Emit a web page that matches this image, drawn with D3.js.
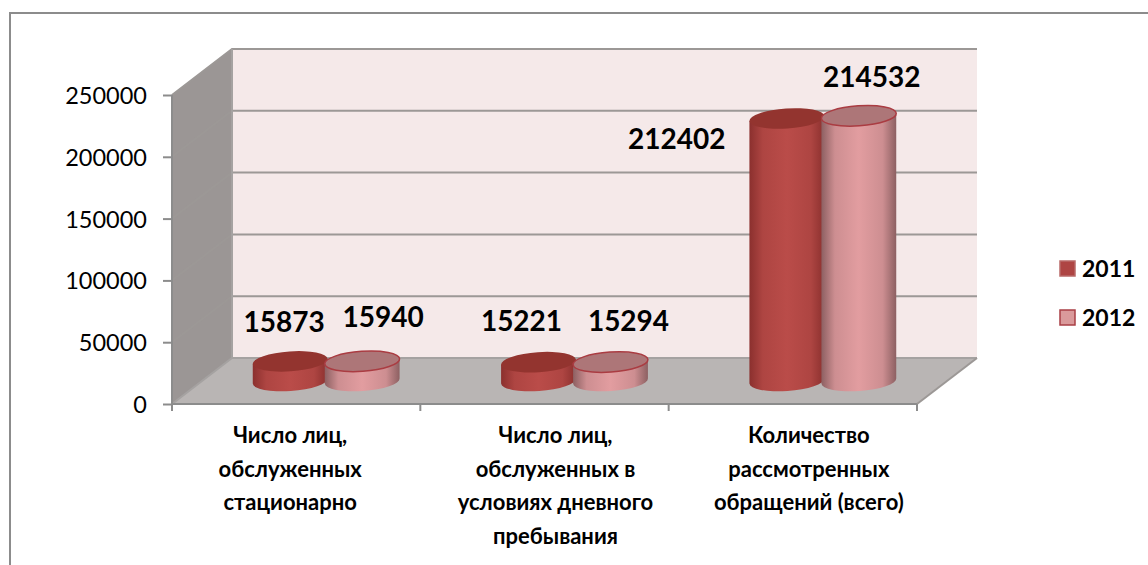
<!DOCTYPE html>
<html>
<head>
<meta charset="utf-8">
<script src="https://cdn.jsdelivr.net/npm/d3@7"></script>
<style>
	html, body { margin: 0; padding: 0; background: #fff; }
	svg { display: block; }
	text { font-family: Lato, "Open Sans", sans-serif; fill: #000; }
</style>
</head>
<body>
<svg id="chart" width="1148" height="565"></svg>
<script>
// data
var categories = [
	["Число лиц,", "обслуженных", "стационарно"],
	["Число лиц,", "обслуженных в", "условиях дневного", "пребывания"],
	["Количество", "рассмотренных", "обращений (всего)"]
];
var seriesNames = ["2011", "2012"];
var values2011 = [15873, 15221, 212402];
var values2012 = [15940, 15294, 214532];
var yTicks = [0, 50000, 100000, 150000, 200000, 250000];

var seriesValues = [values2011, values2012];

// chart box, the depth is the shift from front of floor to the back wall
var left = 172, right = 917, bottom = 404, top_ = 95;
var depthX = 60, depthY = 46;
var rx = 37.5, ry = 10, tilt = 4;
var rad = tilt * Math.PI / 180;

var svg = d3.select("#chart");

var x = d3.scaleBand().domain(d3.range(categories.length)).range([left, right]);
var y = d3.scaleLinear().domain([0, 250000]).range([bottom, top_]);
var xSeries = d3.scaleBand().domain(seriesNames).range([-72, 72]);

// centre of one cylinder, half way into the floor
function cylX(name, i) {
	return x(i) + x.bandwidth() / 2 + depthX / 2 + xSeries(name) + xSeries.bandwidth() / 2;
}

// gradients for the cylinders
var defs = svg.append("defs");
var colors = [
	{ edge: "#8b302e", mid: "#ba4c49", top: "#93342f", line: "#a53a38" },
	{ edge: "#8d6062", mid: "#e29da0", top: "#ad7678", line: "#aa3c42" }
];
colors.forEach(function (c, i) {
	var g = defs.append("linearGradient").attr("id", "side" + i);
	g.append("stop").attr("offset", "0%").attr("stop-color", c.edge);
	g.append("stop").attr("offset", "18%").attr("stop-color", d3.interpolateRgb(c.edge, c.mid)(0.75));
	g.append("stop").attr("offset", "50%").attr("stop-color", c.mid);
	g.append("stop").attr("offset", "82%").attr("stop-color", d3.interpolateRgb(c.edge, c.mid)(0.75));
	g.append("stop").attr("offset", "100%").attr("stop-color", c.edge);
});

// outer frame, only top and left are visible
svg.append("path")
	.attr("d", "M10,565 V13 H1148")
	.attr("fill", "none")
	.attr("stroke", "#8c8c8c")
	.attr("stroke-width", 2);

// walls
var backLeft = left + depthX, backRight = right + depthX, shiftY = -depthY;

svg.append("rect")
	.attr("x", backLeft)
	.attr("y", y(250000) + shiftY)
	.attr("width", backRight - backLeft)
	.attr("height", y(0) - y(250000))
	.attr("fill", "#f5e9e9");

svg.append("path")
	.attr("d", d3.line()([[left, y(0)], [left, y(250000)], [backLeft, y(250000) + shiftY], [backLeft, y(0) + shiftY]]) + "Z")
	.attr("fill", "#9b9695");

svg.append("path")
	.attr("d", d3.line()([[left, y(0)], [backLeft, y(0) + shiftY], [backRight, y(0) + shiftY], [right, y(0)]]) + "Z")
	.attr("fill", "#b9b5b4");

// gridlines run round the left wall and along the back wall
svg.append("g").selectAll("path").data(yTicks).join("path")
	.attr("d", function (d) {
		return d3.line()([[left, y(d)], [backLeft, y(d) + shiftY], [backRight, y(d) + shiftY]]);
	})
	.attr("fill", "none")
	.attr("stroke", function (d) { return d == 0 ? "#a5a2a1" : "#9c9896"; })
	.attr("stroke-width", 2);

svg.append("path")
	.attr("d", d3.line()([[right, y(0)], [backRight, y(0) + shiftY]]))
	.attr("stroke", "#9c9896")
	.attr("stroke-width", 2)
	.attr("fill", "none");

svg.append("path")
	.attr("d", d3.line()([[backLeft, y(250000) + shiftY], [backLeft, y(0) + shiftY]]))
	.attr("stroke", "#a5a2a1")
	.attr("stroke-width", 2);

// axes
var yAxis = svg.append("g")
	.attr("transform", "translate(" + left + ",0)")
	.call(d3.axisLeft(y).tickValues(yTicks).tickSize(9).tickPadding(16).tickFormat(d3.format("d")));
yAxis.selectAll("text").style("font-size", "23.5px").attr("dy", "0.36em");
yAxis.selectAll("line").attr("stroke", "#8c8c8c").attr("stroke-width", 2);
yAxis.select(".domain").attr("stroke", "#8c8c8c").attr("stroke-width", 2).attr("d", "M0," + y(0) + "V" + y(250000));

var xAxisTicks = d3.range(categories.length + 1).map(function (i) {
	return i < categories.length ? x(i) : right;
});
svg.append("g").selectAll("line").data(xAxisTicks).join("line")
	.attr("x1", function (d) { return d; })
	.attr("x2", function (d) { return d; })
	.attr("y1", y(0))
	.attr("y2", y(0) + 7)
	.attr("stroke", "#8c8c8c")
	.attr("stroke-width", 2);
svg.append("line")
	.attr("x1", left).attr("x2", right)
	.attr("y1", y(0)).attr("y2", y(0))
	.attr("stroke", "#8c8c8c")
	.attr("stroke-width", 2);

// category labels, not quite centred under the ticks in the original
var categoryShift = [-6, 11, 16];
svg.append("g").selectAll("text").data(categories).join("text")
	.attr("text-anchor", "middle")
	.style("font-size", "22px")
	.style("font-weight", "bold")
	.each(function (lines, i) {
		d3.select(this).selectAll("tspan").data(lines).join("tspan")
			.attr("x", x(i) + x.bandwidth() / 2 + categoryShift[i])
			.attr("y", function (d, j) { return 443 + j * 33.5; })
			.text(function (d) { return d; });
	});

// side of cylinder: straight edges with the lower half of the base ellipse
function cylinderSide(cx, base, topY) {
	var dx = rx * Math.cos(rad), dy = rx * Math.sin(rad);
	return "M" + (cx - dx) + "," + (topY + dy) +
		"L" + (cx - dx) + "," + (base + dy) +
		"A" + rx + "," + ry + " " + (-tilt) + " 0 0 " + (cx + dx) + "," + (base - dy) +
		"L" + (cx + dx) + "," + (topY - dy) +
		"Z";
}

seriesNames.forEach(function (name, s) {
	var g = svg.append("g");
	var rows = seriesValues[s].map(function (v, i) {
		return { cx: cylX(name, i), base: y(0) - depthY / 2, topY: y(v) - depthY / 2 };
	});
	g.selectAll("path.side").data(rows).join("path")
		.attr("class", "side")
		.attr("d", function (d) { return cylinderSide(d.cx, d.base, d.topY); })
		.attr("fill", "url(#side" + s + ")");
	g.selectAll("ellipse").data(rows).join("ellipse")
		.attr("cx", function (d) { return d.cx; })
		.attr("cy", function (d) { return d.topY; })
		.attr("rx", rx)
		.attr("ry", ry)
		.attr("transform", function (d) { return "rotate(" + (-tilt) + " " + d.cx + " " + d.topY + ")"; })
		.attr("fill", colors[s].top)
		.attr("stroke", colors[s].line)
		.attr("stroke-width", s == 1 ? 1.5 : 0);
});

// value labels were moved by hand in the original, offsets from top of cylinder
var labelShift = [
	[[-6, -29], [-17, -31], [-110, 31]],
	[[21, -34], [18, -31], [13, -29]]
];
svg.append("g").selectAll("g").data(seriesNames).join("g")
	.each(function (name, s) {
		d3.select(this).selectAll("text").data(seriesValues[s]).join("text")
			.attr("text-anchor", "middle")
			.style("font-size", "28px")
			.style("font-weight", "bold")
			.attr("x", function (v, i) { return cylX(name, i) + labelShift[s][i][0]; })
			.attr("y", function (v, i) { return y(v) - depthY / 2 + labelShift[s][i][1]; })
			.text(function (v) { return v; });
	});

// legend
var legend = svg.append("g").selectAll("g").data(seriesNames).join("g")
	.attr("transform", function (d, i) { return "translate(1060," + (261 + i * 49) + ")"; });
legend.append("rect")
	.attr("width", 15).attr("height", 15)
	.attr("fill", function (d, i) { return i == 0 ? "#ae4543" : "#da9a9b"; })
	.attr("stroke", function (d, i) { return i == 0 ? "#b96a68" : "#a93f45"; })
	.attr("stroke-width", 1.5);
legend.append("text")
	.attr("x", 22).attr("y", 16)
	.style("font-size", "23px")
	.style("font-weight", "bold")
	.text(function (d) { return d; });
</script>
</body>
</html>
